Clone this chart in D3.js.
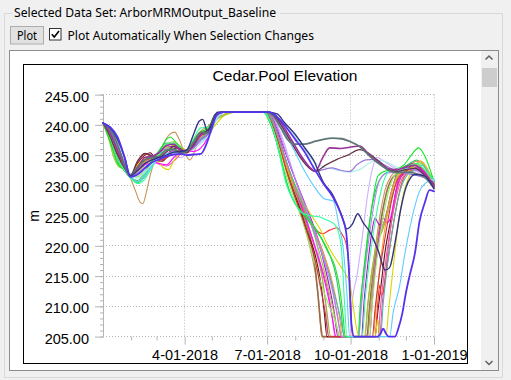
<!DOCTYPE html>
<html><head><meta charset="utf-8">
<script src="https://cdn.jsdelivr.net/npm/d3@7"></script>
<style>
html,body{margin:0;padding:0;background:#f0f0f0;}
svg{display:block;}
</style></head>
<body>
<svg id="c" width="511" height="380"></svg>
<script>
// ---------- data ----------
const dataSetLabel = "Selected Data Set: ArborMRMOutput_Baseline";
const buttonLabel = "Plot";
const checkLabel = "Plot Automatically When Selection Changes";
const chartTitle = "Cedar.Pool Elevation";
const yAxisTitle = "m";
const yMajorTicks = [205, 210, 215, 220, 225, 230, 235, 240, 245];
const xMajorDates = ["2018-04-01", "2018-07-01", "2018-10-01", "2019-01-01"];
const xTickLabels = ["4-01-2018", "7-01-2018", "10-01-2018", "1-01-2019"];
const xMinorDates = ["2018-02-01","2018-03-01","2018-05-01","2018-06-01","2018-08-01","2018-09-01","2018-11-01","2018-12-01"];

// each series: [day since 2018-01-01, elevation]
const darkGray = [[0,240.3],[8,239.2],[16,236.8],[24,233.2],[30,231.6],[38,233.0],[46,234.2],[54,234.6],[62,234.8],[70,235.8],[78,236.0],[86,235.4],[92,235.6],[100,237.2],[108,238.8],[116,238.6],[124,241.6],[132,242.1],[180,242.1],
 [188,241.4],[196,239.5],[204,237.5],[212,236.8],[222,236.8],[232,237.2],[243,237.6],[253,237.8],[263,237.7],[273,237.2],[283,236.4],[293,235.0],[304,233.6],[314,232.6],[324,232.1],[334,232.2],[344,232.0],[354,231.4],[365,229.6]];
const purple = [[0,240.3],[8,238.6],[16,235.8],[24,233.0],[30,231.5],[38,232.8],[46,234.6],[54,234.8],[62,235.4],[70,236.6],[78,236.8],[86,235.8],[92,235.7],[100,236.5],[108,238.4],[116,238.8],[124,241.5],[132,242.1],[182,242.1],
 [190,241.6],[198,240.0],[208,237.5],[218,235.0],[228,233.0],[234,232.3],[242,234.5],[250,236.2],[262,236.1],[272,236.3],[283,236.5],[293,235.2],[304,233.8],[314,232.8],[324,232.6],[334,233.0],[344,233.3],[354,232.0],[365,230.0]];
const darkBrown = [[0,240.3],[8,238.0],[16,235.0],[24,232.8],[30,231.6],[38,234.0],[46,235.3],[54,234.9],[62,234.6],[70,235.5],[78,236.4],[86,236.0],[92,235.4],[100,236.8],[108,238.5],[116,239.2],[124,241.8],[132,242.1],[182,242.1],
 [190,241.3],[198,239.6],[208,237.0],[218,234.5],[228,232.8],[234,232.3],[245,233.3],[258,234.3],[270,235.0],[283,235.9],[293,235.3],[304,234.0],[314,232.8],[324,232.3],[334,232.6],[344,232.8],[354,231.8],[365,230.2]];
const lavPurple = [[0,240.3],[8,239.0],[16,236.5],[24,233.6],[30,231.8],[38,232.5],[46,233.6],[54,234.3],[62,235.5],[70,236.0],[78,235.8],[86,235.3],[92,235.5],[100,236.2],[108,237.6],[116,238.5],[124,241.2],[134,242.1],[182,242.1],
 [190,241.4],[200,239.0],[210,236.5],[222,233.8],[234,232.3],[243,232.6],[252,232.9],[262,232.5],[272,232.3],[280,233.4],[290,234.2],[300,234.3],[310,233.4],[324,232.4],[334,232.0],[344,231.7],[354,231.3],[365,230.6]];
const paleCyan = [[0,240.3],[8,239.2],[16,237.2],[24,234.2],[30,231.9],[38,231.2],[46,232.2],[54,233.5],[62,234.6],[70,235.0],[78,235.2],[86,235.4],[92,235.6],[100,236.0],[108,237.0],[116,238.2],[124,240.8],[134,242.1],[182,242.1],
 [192,241.2],[202,239.8],[212,238.0],[222,236.0],[232,234.0],[244,233.0],[256,232.6],[270,232.2],[283,232.6],[293,233.6],[302,234.2],[312,233.9],[324,233.0],[334,232.0],[344,231.8],[354,231.3],[365,230.8]];
const navy = [[0,240.3],[8,239.5],[16,237.6],[24,234.6],[30,231.6],[38,232.4],[46,233.6],[54,234.2],[62,234.6],[70,235.0],[78,235.5],[86,235.6],[92,235.8],[100,238.5],[106,240.6],[110,240.9],[115,239.0],[120,240.0],[126,242.1],[182,242.1],
 [192,241.8],[200,240.4],[212,238.4],[222,236.3],[232,234.2],[243,230.5],[253,228.5],[262,225.5],[269,222.8],[275,223.6],[281,225.3],[287,223.8],[293,222.6],[304,219.0],[311,216.0],[316,216.4],[322,220.5],[328,225.8],[334,229.6],[344,231.8],[354,231.6],[365,229.4]];
const blueViolet = [[0,240.3],[8,239.6],[16,238.0],[24,234.5],[30,231.4],[38,231.8],[46,232.8],[54,233.8],[62,234.3],[70,234.8],[78,235.1],[86,235.2],[92,235.0],[100,235.1],[108,235.2],[114,236.8],[120,239.5],[126,241.8],[132,242.1],[183,242.1],
 [192,241.3],[202,239.6],[212,237.6],[222,235.6],[232,233.0],[243,230.3],[253,228.2],[262,225.4],[268,222.4],[271,216.5],[274,207.0],[277,205.0],[303,205.0],[306,205.5],[309,206.3],[312,205.5],[315,205.0],[322,205.0],[326,206.5],[330,208.8],[334,212.2],[338,215.0],[344,218.8],[349,224.0],[355,227.2],[360,229.2],[365,229.0]];
const lightBlue = [[0,240.3],[8,239.0],[16,236.0],[24,233.0],[30,231.6],[38,230.6],[46,231.6],[54,233.2],[62,234.5],[70,235.2],[78,235.4],[86,235.6],[92,235.8],[100,236.5],[108,237.5],[116,238.0],[124,240.6],[134,242.1],[182,242.1],
 [190,241.2],[200,238.8],[210,236.0],[220,233.0],[232,230.0],[244,227.8],[254,227.4],[260,223.5],[265,219.4],[269,212.0],[272,205.0],[316,205.0],[320,209.0],[327,213.3],[333,218.8],[338,222.7],[344,226.6],[349,229.0],[356,230.4],[365,231.0]];
const brightGreen = [[0,240.3],[8,237.2],[16,233.6],[22,232.8],[30,231.4],[38,230.4],[46,231.8],[54,233.8],[62,235.6],[70,237.6],[74,238.0],[82,236.8],[90,235.6],[100,237.2],[108,238.8],[116,239.4],[124,241.4],[134,242.1],[177,242.1],
 [182,241.0],[188,238.8],[195,235.3],[202,230.6],[210,227.4],[218,225.8],[228,224.2],[238,222.0],[248,219.0],[256,216.5],[261,213.0],[265,208.0],[267,205.0],[281,205.0],[284,211.0],[288,216.0],[293,222.5],[298,228.0],[303,231.5],[312,232.4],[322,232.6],[332,233.4],[340,235.0],[348,236.2],[355,234.8],[365,230.6]];
const springGreen = [[0,240.3],[8,238.2],[16,234.6],[24,232.4],[30,231.3],[38,230.3],[46,231.0],[54,233.0],[62,235.0],[70,236.8],[78,237.0],[86,236.0],[92,235.5],[100,237.8],[108,239.5],[116,239.6],[124,241.8],[132,242.1],[177,242.1],
 [182,241.2],[188,239.0],[195,234.8],[202,230.2],[210,227.6],[218,225.6],[228,225.0],[238,224.8],[248,224.2],[255,223.6],[259,222.6],[263,219.4],[266,211.5],[269,205.0],[286,205.0],[289,211.0],[293,216.5],[298,222.0],[303,226.5],[309,230.5],[318,232.6],[328,232.4],[338,233.2],[346,233.6],[356,232.4],[365,230.8]];
const tan = [[0,240.3],[8,238.4],[16,235.0],[24,232.6],[30,231.3],[36,229.0],[41,227.2],[44,227.0],[48,229.0],[52,231.6],[56,233.6],[60,234.8],[66,236.6],[72,238.2],[79,238.8],[84,237.6],[90,235.4],[96,234.2],[104,236.8],[112,239.0],[118,238.5],[126,241.8],[134,242.1],[181,242.1],
 [187,240.6],[194,237.0],[202,232.4],[210,228.8],[217,226.0],[224,222.2],[230,218.6],[236,213.5],[239,209.0],[241,205.0],[289,205.0],[292,210.5],[296,215.0],[301,220.5],[306,225.5],[311,229.2],[318,231.6],[328,232.8],[338,233.4],[346,234.0],[353,233.5],[365,230.2]];
const brown = [[0,240.3],[8,237.8],[16,234.2],[24,232.5],[30,231.5],[38,233.0],[46,234.2],[54,234.4],[62,234.0],[70,234.8],[78,235.8],[86,235.8],[92,235.5],[100,237.0],[108,238.2],[116,238.8],[124,241.6],[132,242.1],[180,242.1],
 [186,240.8],[194,237.6],[202,233.4],[210,229.5],[218,226.2],[226,222.8],[232,218.8],[237,212.0],[240,207.0],[242,205.0],[291,205.0],[294,210.0],[298,215.5],[303,221.0],[308,225.5],[313,229.0],[319,231.2],[328,232.2],[340,233.0],[352,232.4],[365,230.4]];
const maroon = [[0,240.3],[8,237.6],[14,235.2],[20,233.4],[26,232.0],[31,231.4],[38,233.6],[46,235.0],[52,235.4],[58,234.4],[66,234.0],[74,235.6],[82,236.2],[90,235.3],[100,236.6],[108,238.6],[116,239.0],[124,241.6],[132,242.1],[180,242.1],
 [186,240.6],[194,237.2],[202,233.0],[210,229.2],[218,225.8],[226,222.0],[234,218.5],[240,214.0],[244,209.0],[247,205.0],[300,205.0],[303,209.0],[307,214.0],[311,219.0],[315,222.5],[319,225.5],[323,229.0],[328,231.2],[338,232.6],[348,233.0],[356,231.8],[365,229.8]];
const lavender = [[0,240.3],[8,239.0],[16,236.8],[24,233.4],[30,231.7],[38,231.5],[46,232.4],[54,233.6],[62,234.8],[70,235.4],[78,234.8],[86,234.6],[92,235.2],[100,236.0],[108,237.0],[116,238.0],[124,240.6],[134,242.1],[181,242.1],
 [188,241.0],[196,238.6],[204,235.0],[212,231.0],[220,227.4],[228,224.2],[236,220.0],[242,214.5],[246,209.5],[249,205.0],[272,205.0],[275,211.0],[280,215.0],[286,221.5],[291,227.6],[296,232.0],[302,234.6],[310,234.0],[320,233.0],[332,232.2],[344,232.4],[354,231.6],[365,230.6]];
const olive = [[0,240.3],[6,238.2],[12,235.4],[18,233.2],[24,232.6],[30,231.6],[38,232.0],[46,233.4],[54,234.4],[62,235.0],[70,236.0],[78,236.6],[86,236.2],[92,235.6],[100,237.6],[108,239.0],[116,239.8],[124,241.0],[132,241.6],[140,242.1],[180,242.1],
 [186,240.5],[194,237.0],[202,233.2],[210,229.6],[218,226.4],[226,223.0],[234,219.5],[242,214.5],[247,209.0],[251,205.0],[292,205.0],[295,210.0],[299,216.0],[303,220.5],[308,222.5],[314,225.4],[320,229.0],[326,231.6],[336,232.6],[346,233.4],[356,232.0],[365,230.0]];
const pinkMagenta = [[0,240.3],[8,238.6],[16,235.4],[24,233.0],[30,231.5],[38,232.6],[46,233.8],[54,234.0],[62,233.5],[70,233.2],[78,234.0],[86,235.2],[92,235.6],[100,236.6],[108,237.8],[116,238.6],[124,241.4],[132,242.1],[180,242.1],
 [186,240.8],[194,237.8],[202,234.0],[210,230.6],[218,227.0],[226,223.6],[234,219.6],[242,216.0],[248,212.5],[253,208.0],[256,205.0],[305,205.0],[308,210.5],[312,216.0],[316,221.5],[320,226.0],[325,229.8],[331,232.0],[340,232.8],[350,232.6],[358,231.4],[365,229.9]];
const purpleMagenta = [[0,240.3],[8,238.8],[16,236.0],[24,233.2],[30,231.6],[38,233.2],[46,234.0],[54,234.6],[62,235.6],[70,236.3],[78,236.4],[86,235.8],[92,235.6],[100,236.8],[108,238.2],[116,238.9],[124,241.6],[132,242.1],[181,242.1],
 [188,240.8],[196,237.6],[204,234.2],[212,231.0],[220,228.0],[228,225.0],[236,221.6],[244,217.0],[250,213.0],[255,209.0],[259,205.0],[285,205.0],[288,211.0],[292,217.0],[296,221.8],[300,224.6],[304,223.6],[308,223.4],[313,225.6],[318,229.0],[324,231.8],[334,233.2],[344,233.6],[354,232.4],[365,229.8]];
const red = [[0,240.3],[8,238.0],[16,234.8],[24,232.8],[30,231.4],[38,232.8],[46,234.2],[54,234.5],[62,234.2],[70,234.6],[78,235.4],[86,235.6],[92,235.4],[100,236.2],[108,237.6],[116,238.4],[124,241.2],[132,242.1],[181,242.1],
 [187,240.8],[194,237.6],[202,233.8],[210,230.4],[218,227.2],[226,224.6],[234,222.8],[242,222.0],[250,222.6],[258,223.0],[264,221.8],[268,220.4],[271,217.0],[273,211.0],[275,205.0],[300,205.0],[303,210.5],[305,213.5],[307,211.8],[309,212.4],[313,216.5],[318,221.5],[323,226.0],[328,229.6],[334,231.8],[344,232.6],[354,232.0],[365,230.8]];
const yellow = [[0,240.3],[8,238.4],[16,235.2],[24,233.0],[30,231.6],[38,233.4],[46,234.4],[54,234.6],[60,234.0],[66,233.0],[72,232.6],[78,234.0],[86,235.6],[92,235.8],[100,236.6],[108,237.4],[116,238.4],[124,240.0],[134,241.6],[146,242.1],[181,242.1],
 [188,240.2],[196,236.4],[204,232.4],[212,229.4],[220,227.4],[230,225.0],[240,222.6],[248,220.0],[256,218.0],[263,216.4],[268,215.2],[272,214.0],[276,210.0],[280,206.0],[283,205.0],[300,205.0],[303,207.8],[306,205.0],[312,205.0],[315,209.5],[319,215.0],[323,220.5],[327,225.0],[332,229.0],[338,231.6],[346,233.0],[352,233.7],[358,232.4],[365,230.0]];
const yellowGreen = [[0,240.3],[6,237.8],[12,234.6],[18,233.0],[24,232.6],[30,231.5],[38,232.2],[46,234.0],[54,234.8],[62,235.4],[70,236.8],[78,237.2],[86,236.4],[92,235.8],[100,237.4],[108,238.6],[116,239.5],[124,240.8],[134,241.6],[146,242.1],[181,242.1],
 [187,240.6],[194,237.4],[202,233.8],[210,230.8],[218,228.0],[226,225.0],[234,221.4],[242,217.0],[250,212.0],[256,208.0],[261,205.0],[288,205.0],[292,210.0],[296,215.5],[302,220.5],[308,223.0],[313,225.4],[318,228.8],[324,231.6],[334,232.8],[344,233.6],[354,232.6],[365,230.3]];
const magenta = [[0,240.3],[8,238.6],[16,235.6],[24,233.2],[30,231.6],[38,232.6],[46,233.4],[54,233.8],[62,233.6],[70,233.4],[78,234.6],[86,235.6],[92,235.8],[100,235.6],[108,236.2],[116,238.0],[124,241.0],[132,242.1],[180,242.1],
 [186,240.8],[194,237.8],[202,234.0],[210,230.2],[218,226.8],[226,223.4],[234,219.8],[242,215.6],[248,211.8],[253,208.0],[257,205.0],[294,205.0],[297,211.0],[301,217.5],[305,222.0],[309,224.6],[313,223.8],[317,224.6],[321,227.5],[326,231.0],[336,232.4],[346,233.0],[356,232.0],[365,229.6]];
const mediumGreen = [[0,240.3],[8,237.4],[16,234.0],[24,232.4],[30,231.3],[38,230.8],[46,232.2],[54,234.0],[62,235.8],[70,237.0],[78,236.8],[86,235.8],[92,235.6],[100,237.0],[108,238.4],[116,239.2],[124,241.5],[132,242.1],[178,242.1],
 [183,240.8],[190,237.8],[197,233.8],[204,229.8],[212,227.0],[222,225.0],[232,223.0],[242,221.0],[250,218.5],[257,215.0],[262,210.0],[266,205.0],[282,205.0],[285,212.0],[289,218.0],[293,223.0],[298,227.5],[304,230.6],[314,232.2],[326,232.6],[336,233.4],[346,234.2],[356,232.8],[365,230.8]];
const dustyPink = [[0,240.3],[8,238.8],[16,236.2],[24,233.6],[30,231.6],[38,233.0],[46,234.6],[54,234.4],[62,234.0],[70,234.8],[78,235.6],[86,235.4],[92,235.4],[100,236.4],[108,237.6],[116,238.6],[124,241.2],[132,242.1],[181,242.1],
 [188,240.4],[196,236.8],[204,232.8],[212,229.6],[220,227.0],[228,224.4],[236,221.6],[244,218.4],[251,214.6],[256,210.5],[260,207.0],[263,205.0],[303,205.0],[306,210.0],[310,215.5],[315,221.0],[320,225.5],[326,229.6],[333,231.8],[343,232.6],[354,232.0],[365,230.0]];
const orange = [[0,240.3],[8,238.2],[16,235.0],[24,232.8],[30,231.5],[38,232.4],[46,233.8],[54,234.4],[62,235.2],[70,236.4],[78,237.0],[86,236.2],[92,235.6],[100,236.8],[108,238.0],[116,238.8],[124,241.4],[132,242.1],[180,242.1],
 [186,240.6],[194,237.2],[202,233.4],[210,230.2],[218,227.4],[226,224.8],[234,222.0],[242,219.0],[250,215.6],[256,212.0],[261,208.0],[264,205.0],[298,205.0],[301,210.0],[305,216.0],[310,222.0],[315,226.5],[320,229.8],[327,231.8],[336,232.4],[344,233.4],[350,234.0],[356,233.2],[365,230.2]];
const lightGreen = [[0,240.3],[8,237.6],[16,234.2],[24,232.5],[30,231.4],[38,231.4],[46,232.8],[54,234.2],[62,235.2],[70,236.2],[78,236.0],[86,235.4],[92,235.4],[100,237.0],[108,238.4],[116,239.0],[124,241.2],[132,242.1],[179,242.1],
 [185,240.6],[192,237.0],[200,232.6],[208,229.0],[216,225.8],[224,222.2],[232,218.0],[240,214.0],[248,210.6],[256,207.6],[262,205.0],[294,205.0],[297,210.5],[301,216.5],[306,222.0],[311,226.4],[316,229.6],[323,231.8],[333,232.2],[343,233.0],[350,233.8],[357,232.6],[365,230.4]];
const darkRed = [[0,240.3],[8,238.2],[16,235.2],[24,233.0],[30,231.5],[38,233.8],[46,235.2],[54,234.8],[62,234.2],[70,234.5],[78,235.5],[86,235.6],[92,235.4],[100,236.8],[108,238.4],[116,238.6],[124,241.6],[132,242.1],[180,242.1],
 [186,240.4],[194,236.8],[202,232.6],[210,228.8],[218,225.4],[226,221.8],[234,217.6],[240,213.0],[245,209.0],[249,205.0],[297,205.0],[300,209.5],[304,214.5],[309,219.5],[314,224.0],[319,228.0],[325,231.0],[334,232.4],[344,232.8],[354,231.8],[365,229.8]];
const teal = [[0,240.3],[8,238.0],[16,234.4],[24,232.6],[30,231.5],[38,230.6],[46,231.4],[54,233.4],[62,235.0],[70,235.8],[78,235.6],[86,235.2],[92,235.5],[100,236.6],[108,237.8],[116,238.8],[124,241.0],[134,242.1],[180,242.1],
 [186,240.8],[194,237.6],[202,234.0],[210,230.6],[218,227.6],[226,224.8],[234,221.8],[242,218.6],[250,215.0],[257,211.0],[262,208.0],[266,205.0],[306,205.0],[309,210.5],[313,216.0],[318,221.5],[323,226.0],[329,229.8],[336,231.8],[345,232.6],[352,233.4],[358,232.2],[365,230.5]];
const lightPurple = [[0,240.3],[8,239.0],[16,236.4],[24,233.4],[30,231.7],[38,232.0],[46,233.0],[54,233.8],[62,234.6],[70,235.2],[78,235.6],[86,235.4],[92,235.5],[100,236.2],[108,237.4],[116,238.4],[124,240.8],[134,242.1],[181,242.1],
 [188,241.0],[196,238.0],[204,234.4],[212,231.0],[220,227.8],[228,224.6],[236,221.2],[244,217.4],[252,213.2],[258,209.0],[263,205.0],[282,205.0],[285,210.0],[289,216.0],[294,222.0],[299,227.0],[304,230.4],[312,232.0],[322,232.2],[332,232.8],[344,232.6],[354,231.8],[365,230.2]];

// drawing order (later = on top)
const seriesList = [tan, brown, maroon, lavender, olive, pinkMagenta, purpleMagenta, red, yellow, yellowGreen,
  magenta, mediumGreen, dustyPink, orange, lightGreen, darkRed, teal, lightPurple, brightGreen, springGreen,
  lightBlue, paleCyan, lavPurple, darkBrown, purple, darkGray, navy, blueViolet];
// styles (kept separate from values)
const seriesColors = ["#c8945a","#9a6a48","#700818","#cdb0ff","#a8a838","#ff3cc8","#a810c8","#ff3030","#d8d800","#98c838",
  "#ff10ff","#30c060","#d86898","#ff9a30","#90ee60","#c83838","#50b8a8","#b880ff","#10e828","#30ffa0",
  "#60ccff","#b0eeee","#9a78dc","#663344","#993399","#5f7575","#333380","#5533ee"];
const seriesWidths = [1.1,1.6,1.1,1.1,1.1,1.1,1.1,1.1,1.1,1.1, 1.1,1.1,1.1,1.1,1.1,1.1,1.1,1.1,1.1,1.1, 1.1,1.2,1.2,1.2,1.6,1.8,1.4,1.8];

// ---------- drawing ----------
const svg = d3.select("#c");
const uiFont = "'Noto Sans', 'DejaVu Sans', sans-serif";
const chartFont = "'Liberation Sans', Arial, sans-serif";

// group box
svg.append("path").attr("d","M12,13.5 H4.5 V377.5 H502.5 V13.5 H280")
  .attr("fill","none").attr("stroke","#d8d8d8");
svg.append("text").attr("x",14).attr("y",16.5).attr("font-family",uiFont).attr("font-size",12.5)
  .attr("fill","#000").attr("textLength",262).attr("lengthAdjust","spacingAndGlyphs").text(dataSetLabel);

// button
svg.append("rect").attr("x",10.5).attr("y",26.5).attr("width",33).attr("height",17.5)
  .attr("fill","#e1e1e1").attr("stroke","#adadad");
svg.append("text").attr("x",27).attr("y",39.5).attr("text-anchor","middle").attr("font-family",uiFont)
  .attr("font-size",12.5).attr("textLength",20).attr("lengthAdjust","spacingAndGlyphs").text(buttonLabel);
// checkbox
svg.append("rect").attr("x",49.5).attr("y",28.5).attr("width",11.5).attr("height",11.5)
  .attr("fill","#fff").attr("stroke","#333");
svg.append("path").attr("d","M51.8,34.2 L54.3,37 L59,31").attr("fill","none").attr("stroke","#000").attr("stroke-width",1.6);
svg.append("text").attr("x",67.5).attr("y",39.5).attr("font-family",uiFont).attr("font-size",12.5)
  .attr("textLength",246.5).attr("lengthAdjust","spacingAndGlyphs").text(checkLabel);

// scroll panel
svg.append("rect").attr("x",9.5).attr("y",50.5).attr("width",489).attr("height",320)
  .attr("fill","#fff").attr("stroke","#8c8c8c");
svg.append("rect").attr("x",481).attr("y",51).attr("width",17).attr("height",319).attr("fill","#f0f0f0");
svg.append("rect").attr("x",482).attr("y",68).attr("width",15).attr("height",19).attr("fill","#cdcdcd");
svg.append("path").attr("d","M485.5,59.5 L489,56 L492.5,59.5").attr("fill","none").attr("stroke","#606060").attr("stroke-width",1.5);
svg.append("path").attr("d","M485.5,361 L489,364.5 L492.5,361").attr("fill","none").attr("stroke","#606060").attr("stroke-width",1.5);

// chart box
svg.append("rect").attr("x",23.5).attr("y",64.5).attr("width",444).attr("height",299)
  .attr("fill","#fff").attr("stroke","#000");

const x = d3.scaleTime().domain([new Date(2018,0,1), new Date(2019,0,1)]).range([103, 434]);
const y = d3.scaleLinear().domain([205, 245]).range([336.6, 94.6]);
const parse = d3.timeParse("%Y-%m-%d");
const day0 = new Date(2018,0,1);
const toDate = d => d3.timeDay.offset(day0, d);

// title
svg.append("text").attr("x",285).attr("y",80.5).attr("text-anchor","middle")
  .attr("font-family",chartFont).attr("font-size",15.5).attr("fill","#000").text(chartTitle);

// grid (dotted)
const grid = svg.append("g").attr("stroke","#b8b8b8").attr("stroke-dasharray","1,2").attr("fill","none");
yMajorTicks.forEach(v => {
  const yy = Math.floor(y(v)) + 0.5;
  grid.append("line").attr("x1",103).attr("x2",434).attr("y1",yy).attr("y2",yy);
});
xMajorDates.forEach(s => {
  const xx = Math.floor(x(parse(s))) + 0.5;
  grid.append("line").attr("x1",xx).attr("x2",xx).attr("y1",y(245)).attr("y2",y(205));
});

// y axis: minor + major ticks
const gy = svg.append("g").attr("transform","translate(103.5,0)");
gy.call(d3.axisLeft(y).tickValues(d3.range(205, 246, 1)).tickSize(3.5).tickFormat(""));
const gyM = svg.append("g").attr("transform","translate(103.5,0)");
gyM.call(d3.axisLeft(y).tickValues(yMajorTicks).tickSize(8.5).tickPadding(6).tickFormat(d3.format(".2f")));
[gy, gyM].forEach(g => {
  g.select(".domain").remove();
  g.selectAll("line").attr("stroke","#b4b4b4");
});
svg.append("line").attr("x1",103.5).attr("x2",103.5).attr("y1",y(245)).attr("y2",y(205)+0.5).attr("stroke","#b4b4b4");
gyM.selectAll("text").attr("font-family",chartFont).attr("font-size",14.5).attr("fill","#000").attr("dy","0.45em");

// x axis: minor + major ticks
const xBase = Math.floor(y(205)) + 0.5;
const gx = svg.append("g").attr("transform",`translate(0,${xBase})`);
gx.call(d3.axisBottom(x).tickValues(xMinorDates.map(parse)).tickSize(4).tickFormat(""));
const gxM = svg.append("g").attr("transform",`translate(0,${xBase})`);
gxM.call(d3.axisBottom(x).tickValues(xMajorDates.map(parse)).tickSize(8).tickPadding(5)
  .tickFormat((d,i) => xTickLabels[i]));
[gx, gxM].forEach(g => {
  g.select(".domain").remove();
  g.selectAll("line").attr("stroke","#b4b4b4");
});
gxM.selectAll("text").attr("font-family",chartFont).attr("font-size",14.5).attr("fill","#000")
  .attr("y",13).attr("dy","0.71em");

// y axis title
svg.append("text").attr("transform","translate(38.5,216) rotate(-90)").attr("text-anchor","middle")
  .attr("font-family",chartFont).attr("font-size",14).attr("fill","#000").text(yAxisTitle);

// series
const line = d3.line().x(p => x(toDate(p[0]))).y(p => y(p[1])).curve(d3.curveMonotoneX);
const gl = svg.append("g").attr("fill","none").attr("stroke-linejoin","round").attr("stroke-linecap","round");
seriesList.forEach((s, i) => {
  gl.append("path").attr("d", line(s)).attr("stroke", seriesColors[i]).attr("stroke-width", seriesWidths[i]);
});
</script>
</body></html>
